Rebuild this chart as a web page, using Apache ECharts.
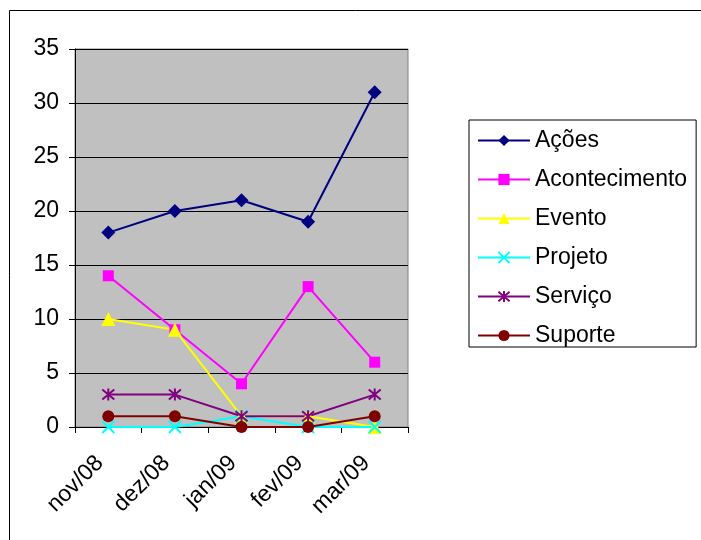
<!DOCTYPE html>
<html>
<head>
<meta charset="utf-8">
<script src="https://cdn.jsdelivr.net/npm/echarts@6/dist/echarts.min.js"></script>
<style>
html,body{margin:0;padding:0;background:#fff;}
#c{width:701px;height:540px;}
</style>
</head>
<body>
<div id="c"></div>
<script>
var categories = ['nov/08', 'dez/08', 'jan/09', 'fev/09', 'mar/09'];
var acoes = [18, 20, 21, 19, 31];
var acontecimento = [14, 9, 4, 13, 6];
var evento = [10, 9, 1, 1, 0];
var projeto = [0, 0, 1, 0, 0];
var servico = [3, 3, 1, 1, 3];
var suporte = [1, 1, 0, 0, 1];
var yTicks = [0, 5, 10, 15, 20, 25, 30, 35];

var FONT = '"Liberation Sans", Arial, sans-serif';
var xPath = 'path://M0,0L10,10M10,0L0,10';
var starPath = 'path://M0,0L10,10M10,0L0,10M5,-1L5,11';

function mk(name, data, color, symbol, size, extra) {
  return {
    name: name, type: 'line', data: data,
    symbol: symbol, symbolSize: size,
    lineStyle: { color: color, width: 2 },
    itemStyle: Object.assign({ color: color }, extra || {}),
    emphasis: { disabled: true },
    animation: false
  };
}

var chart = echarts.init(document.getElementById('c'), null, { renderer: 'canvas' });
chart.setOption({
  backgroundColor: '#fff',
  animation: false,
  textStyle: { fontFamily: FONT },
  graphic: [{
    type: 'rect', shape: { x: 9.5, y: 10.5, width: 700, height: 540 },
    style: { fill: 'none', stroke: '#000', lineWidth: 1 }, silent: true
  }],
  grid: {
    left: 75, top: 49, width: 333, height: 378,
    show: true, backgroundColor: '#C0C0C0', borderColor: '#808080', borderWidth: 1
  },
  legend: {
    orient: 'vertical', left: 469, top: 120,
    borderColor: '#000', borderWidth: 1,
    padding: [9, 9, 0, 8],
    itemWidth: 52, itemHeight: 14, itemGap: 16,
    textStyle: { fontFamily: FONT, fontSize: 23, color: '#000' },
    data: ['Ações', 'Acontecimento', 'Evento', 'Projeto', 'Serviço', 'Suporte']
  },
  xAxis: {
    type: 'category', data: categories, boundaryGap: true,
    axisLine: { lineStyle: { color: '#000', width: 1 } },
    axisTick: { show: true, length: 6, lineStyle: { color: '#000' } },
    axisLabel: { rotate: 45, fontFamily: FONT, fontSize: 23, color: '#000', margin: 24, padding: [0, 12, 0, 0], interval: 0 },
    splitLine: { show: false }
  },
  yAxis: {
    type: 'value', min: 0, max: 35, interval: 5,
    axisLine: { show: true, lineStyle: { color: '#000', width: 1 } },
    axisTick: { show: true, length: 6, lineStyle: { color: '#000' } },
    axisLabel: {
      fontFamily: FONT, fontSize: 23, color: '#000', margin: 16,
      formatter: function (v) { return yTicks.indexOf(v) >= 0 ? String(v) : ''; }
    },
    splitLine: { show: true, lineStyle: { color: '#000', width: 1 } }
  },
  series: [
    mk('Ações', acoes, '#000080', 'diamond', 14),
    mk('Acontecimento', acontecimento, '#FF00FF', 'rect', 11),
    mk('Evento', evento, '#FFFF00', 'triangle', 14),
    mk('Projeto', projeto, '#00FFFF', xPath, 12, { borderColor: '#00FFFF', borderWidth: 2 }),
    mk('Serviço', servico, '#800080', starPath, 12, { borderColor: '#800080', borderWidth: 2 }),
    mk('Suporte', suporte, '#800000', 'circle', 12)
  ]
});
</script>
</body>
</html>
